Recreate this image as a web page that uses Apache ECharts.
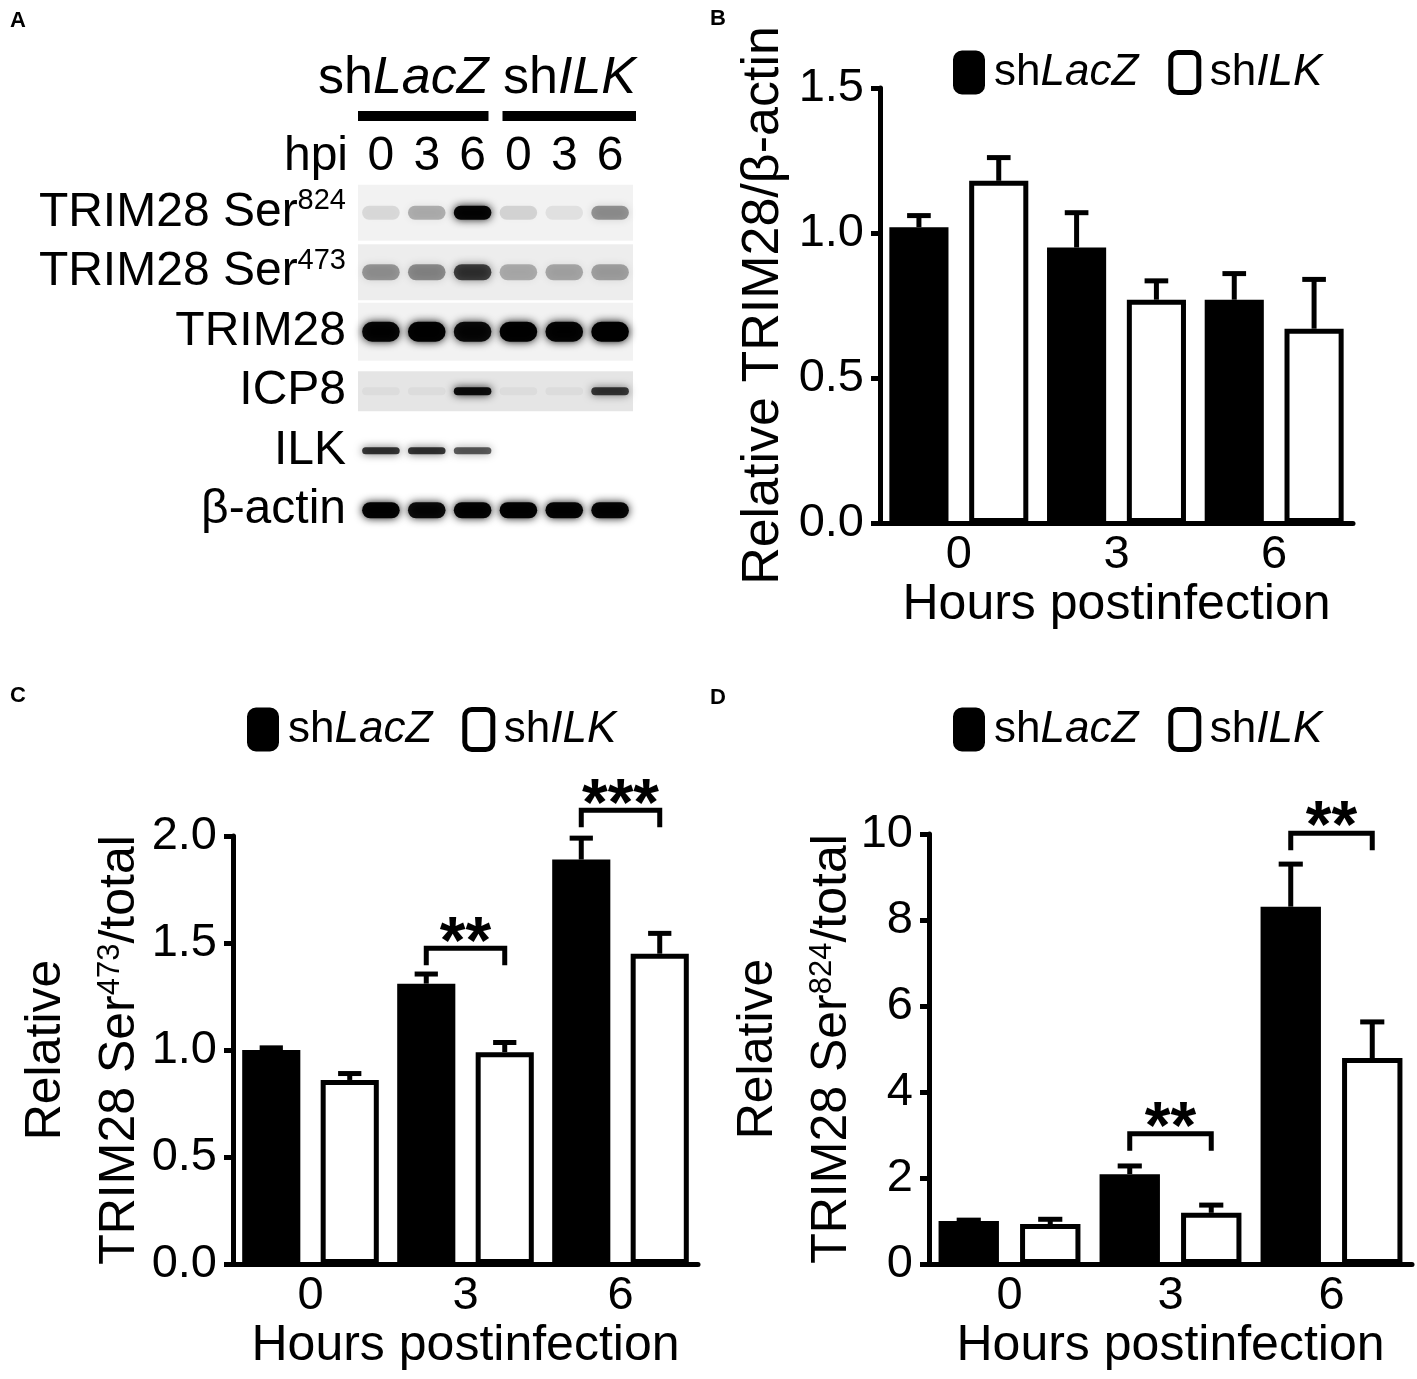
<!DOCTYPE html>
<html>
<head>
<meta charset="utf-8">
<script src="https://cdn.jsdelivr.net/npm/echarts@6/dist/echarts.min.js"></script>
<style>
    html, body { margin: 0; padding: 0; background: #fff; }
    #main { width: 1417px; height: 1379px; }
</style>
</head>
<body>
<div id="main"></div>
<script>
var FONT = "'Liberation Sans', Arial, sans-serif";

// ---- panel A: western blot ----
var lanes = ['0', '3', '6', '0', '3', '6'];
var rowNames = ['TRIM28 Ser824', 'TRIM28 Ser473', 'TRIM28', 'ICP8', 'ILK', 'β-actin'];
var groupNames = ['shLacZ', 'shILK'];
var groupFirst = [0, 3];
var groupLast = [2, 5];
// band darkness per row, one value per lane
var ser824Band = [0.10, 0.26, 0.95, 0.12, 0.07, 0.36];
var ser473Band = [0.34, 0.38, 0.68, 0.26, 0.28, 0.30];
var trim28Band = [0.95, 0.98, 0.92, 0.98, 0.96, 1.00];
var icp8Band = [0.04, 0.04, 0.92, 0.04, 0.04, 0.72];
var ilkBand = [0.75, 0.75, 0.60, 0.00, 0.00, 0.00];
var actinBand = [0.98, 0.92, 0.96, 0.98, 0.96, 0.96];
var stripShade = [0.05, 0.07, 0.05, 0.10, 0.0, 0.0];

// ---- panels B-D: bars ----
var hours = ['0', '3', '6'];
var bLacZ = [1.02, 0.95, 0.77];
var bLacZErr = [0.04, 0.12, 0.09];
var bILK = [1.18, 0.77, 0.67];
var bILKErr = [0.08, 0.065, 0.17];

var cLacZ = [1.00, 1.31, 1.89];
var cLacZErr = [0.01, 0.045, 0.10];
var cILK = [0.86, 0.99, 1.45];
var cILKErr = [0.03, 0.045, 0.095];
var cSigCat = [1, 2];
var cSigY = [1.475, 2.12];
var cSigLabel = ['**', '***'];

var dLacZ = [1.00, 2.09, 8.31];
var dLacZErr = [0.02, 0.19, 0.99];
var dILK = [0.93, 1.19, 4.79];
var dILKErr = [0.11, 0.18, 0.84];
var dSigCat = [1, 2];
var dSigY = [3.03, 10.02];
var dSigLabel = ['**', '**'];

var BAR_W = 0.375, BAR_GAP = 0.35;
var stripH = [56, 56, 58, 40, 0, 0];
var bandH = [14, 16, 20, 8, 7, 16];

var blotRows = [ser824Band, ser473Band, trim28Band, icp8Band, ilkBand, actinBand];
var bandData = [];
blotRows.forEach(function (row, r) {
    row.forEach(function (v, l) { bandData.push([l, r, v]); });
});
var stripData = stripShade.map(function (s, r) { return [0, r, s]; });
var groupData = groupNames.map(function (g, i) { return [groupFirst[i], groupLast[i], i]; });

var rowRich = {
    n: { fontSize: 48, fontFamily: FONT, color: '#000', lineHeight: 52 },
    s: { fontSize: 29, fontFamily: FONT, color: '#000', verticalAlign: 'top', lineHeight: 30 }
};
function rowLabel(v) {
    var m = v.match(/^(TRIM28 Ser)(\d+)$/);
    if (m) return '{n|' + m[1] + '}{s|' + m[2] + '}';
    return '{n|' + v + '}';
}
function shLabel(name) {
    return '{n|sh}{i|' + name.slice(2) + '}';
}

function renderStrip(params, api) {
    var r = api.value(1), s = api.value(2);
    if (s <= 0) return;
    var p = api.coord([0, r]);
    var h = stripH[r];
    return {
        type: 'rect',
        shape: { x: params.coordSys.x, y: p[1] - h / 2, width: params.coordSys.width, height: h },
        style: { fill: 'rgba(0,0,0,' + s + ')' }
    };
}
function renderBand(params, api) {
    var a = api.value(2);
    if (a <= 0) return;
    var r = api.value(1);
    var p = api.coord([api.value(0), r]);
    var w = api.size([1, 0])[0] * 0.82;
    var h = bandH[r];
    var c = 'rgba(0,0,0,' + a + ')';
    return {
        type: 'rect',
        shape: { x: p[0] - w / 2, y: p[1] - h / 2, width: w, height: h, r: h / 2 },
        style: { fill: c, shadowBlur: 8, shadowColor: c }
    };
}
function renderGroup(params, api) {
    var band = api.size([1, 0])[0];
    var x1 = api.coord([api.value(0), 0])[0] - band / 2 + (api.value(0) > 0 ? 7 : 0);
    var x2 = api.coord([api.value(1), 0])[0] + band / 2 - (api.value(1) < lanes.length - 1 ? 7 : -3);
    var y = params.coordSys.y - 72;
    return {
        type: 'group',
        children: [
            { type: 'rect', shape: { x: x1, y: y, width: x2 - x1, height: 10 }, style: { fill: '#000' } },
            {
                type: 'text',
                style: {
                    text: shLabel(groupNames[api.value(2)]), x: x2, y: y - 6,
                    align: 'right', verticalAlign: 'bottom',
                    rich: {
                        n: { fontSize: 52, fontFamily: FONT, color: '#000' },
                        i: { fontSize: 52, fontFamily: FONT, fontStyle: 'italic', color: '#000' }
                    }
                }
            }
        ]
    };
}

function errorBars(side) {
    return function (params, api) {
        var band = api.size([1, 0])[0];
        var bw = band * BAR_W, gap = bw * BAR_GAP;
        var off = side * (bw + gap) / 2;
        var lo = api.coord([api.value(0), api.value(1)]);
        var hi = api.coord([api.value(0), api.value(1) + api.value(2)]);
        var x = lo[0] + off, cap = bw * 0.2;
        return {
            type: 'group',
            children: [
                { type: 'line', shape: { x1: x, y1: lo[1], x2: x, y2: hi[1] }, style: { stroke: '#000', lineWidth: 5 } },
                { type: 'line', shape: { x1: x - cap, y1: hi[1], x2: x + cap, y2: hi[1] }, style: { stroke: '#000', lineWidth: 5 } }
            ]
        };
    };
}
function sigBrackets(labels) {
    return function (params, api) {
        var band = api.size([1, 0])[0];
        var bw = band * BAR_W, gap = bw * BAR_GAP;
        var off = (bw + gap) / 2;
        var p = api.coord([api.value(0), api.value(1)]);
        var x1 = p[0] - off, x2 = p[0] + off, y = p[1], leg = 17;
        return {
            type: 'group',
            children: [
                {
                    type: 'polyline',
                    shape: { points: [[x1, y + leg], [x1, y], [x2, y], [x2, y + leg]] },
                    style: { stroke: '#000', lineWidth: 5, fill: null }
                },
                {
                    type: 'text',
                    style: {
                        text: labels[params.dataIndex], x: (x1 + x2) / 2, y: y + 29,
                        align: 'center', verticalAlign: 'bottom',
                        fontSize: 66, fontWeight: 'bold', fontFamily: FONT, fill: '#000'
                    }
                }
            ]
        };
    };
}

function pair(vals, errs) {
    return vals.map(function (v, i) { return [i, v, errs[i]]; });
}
function sigData(cats, ys) {
    return cats.map(function (c, i) { return [c, ys[i]]; });
}

function legendFor(left, top) {
    return {
        left: left, top: top,
        itemWidth: 28, itemHeight: 40, itemGap: 30,
        icon: 'roundRect',
        selectedMode: false,
        data: [
            { name: 'shLacZ', itemStyle: { color: '#000', borderColor: '#000', borderWidth: 4 } },
            { name: 'shILK', itemStyle: { color: '#fff', borderColor: '#000', borderWidth: 5 } }
        ],
        formatter: shLabel,
        textStyle: {
            fontSize: 44, fontFamily: FONT, color: '#000', padding: [0, 0, 0, 6],
            rich: {
                n: { fontSize: 44, fontFamily: FONT, color: '#000' },
                i: { fontSize: 44, fontFamily: FONT, fontStyle: 'italic', color: '#000' }
            }
        }
    };
}

function barX(idx) {
    return {
        gridIndex: idx, type: 'category', data: hours,
        axisLine: { lineStyle: { color: '#000', width: 5 } },
        axisTick: { show: false },
        axisLabel: { fontSize: 47, fontFamily: FONT, color: '#000', margin: 9 },
        name: 'Hours postinfection', nameLocation: 'middle', nameGap: 56,
        nameTextStyle: { fontSize: 50, fontFamily: FONT, color: '#000' }
    };
}
function barY(idx, max, interval, digits, name, gap) {
    return {
        gridIndex: idx, type: 'value', min: 0, max: max, interval: interval,
        axisLine: { show: true, lineStyle: { color: '#000', width: 5 } },
        axisTick: { show: true, length: 9, lineStyle: { color: '#000', width: 5 } },
        splitLine: { show: false },
        axisLabel: {
            fontSize: 47, fontFamily: FONT, color: '#000', margin: 16,
            formatter: function (v) { return v.toFixed(digits); }
        },
        name: name, nameLocation: 'middle', nameGap: gap, nameRotate: 90,
        nameTextStyle: {
            fontSize: 52, fontFamily: FONT, color: '#000',
            rich: {
                r: { fontSize: 50, fontFamily: FONT, color: '#000', lineHeight: 74 },
                s: { fontSize: 31, fontFamily: FONT, color: '#000', verticalAlign: 'top', lineHeight: 31, padding: [12, 0, 0, 0] }
            }
        }
    };
}
function barSeries(idx, lacz, ilk) {
    return [
        {
            name: 'shLacZ', type: 'bar', xAxisIndex: idx, yAxisIndex: idx,
            barWidth: (BAR_W * 100) + '%', barGap: (BAR_GAP * 100) + '%',
            itemStyle: { color: '#000', borderColor: '#000', borderWidth: 4 },
            data: lacz, z: 3
        },
        {
            name: 'shILK', type: 'bar', xAxisIndex: idx, yAxisIndex: idx,
            barWidth: (BAR_W * 100) + '%', barGap: (BAR_GAP * 100) + '%',
            itemStyle: { color: '#fff', borderColor: '#000', borderWidth: 5 },
            data: ilk, z: 3
        }
    ];
}

var chart = echarts.init(document.getElementById('main'));

var series = [
    { type: 'custom', xAxisIndex: 0, yAxisIndex: 0, renderItem: renderStrip, data: stripData, z: 1, silent: true },
    { type: 'custom', xAxisIndex: 0, yAxisIndex: 0, renderItem: renderBand, data: bandData, z: 2, silent: true },
    { type: 'custom', xAxisIndex: 0, yAxisIndex: 0, renderItem: renderGroup, data: groupData, z: 2, silent: true }
];
series = series.concat(barSeries(1, bLacZ, bILK), barSeries(2, cLacZ, cILK), barSeries(3, dLacZ, dILK));
[[1, bLacZ, bLacZErr, bILK, bILKErr], [2, cLacZ, cLacZErr, cILK, cILKErr], [3, dLacZ, dLacZErr, dILK, dILKErr]].forEach(function (g) {
    series.push({ type: 'custom', xAxisIndex: g[0], yAxisIndex: g[0], renderItem: errorBars(-1), data: pair(g[1], g[2]), z: 2 });
    series.push({ type: 'custom', xAxisIndex: g[0], yAxisIndex: g[0], renderItem: errorBars(1), data: pair(g[3], g[4]), z: 2 });
});
series.push({ type: 'custom', xAxisIndex: 2, yAxisIndex: 2, renderItem: sigBrackets(cSigLabel), data: sigData(cSigCat, cSigY), z: 4 });
series.push({ type: 'custom', xAxisIndex: 3, yAxisIndex: 3, renderItem: sigBrackets(dSigLabel), data: sigData(dSigCat, dSigY), z: 4 });

var option = {
    backgroundColor: '#fff',
    animation: false,
    textStyle: { fontFamily: FONT },
    graphic: [
        { type: 'text', left: 10, top: 10, style: { text: 'A', fontSize: 22, fontWeight: 'bold', fontFamily: FONT, fill: '#000' } },
        { type: 'text', left: 710, top: 8, style: { text: 'B', fontSize: 22, fontWeight: 'bold', fontFamily: FONT, fill: '#000' } },
        { type: 'text', left: 10, top: 685, style: { text: 'C', fontSize: 22, fontWeight: 'bold', fontFamily: FONT, fill: '#000' } },
        { type: 'text', left: 710, top: 687, style: { text: 'D', fontSize: 22, fontWeight: 'bold', fontFamily: FONT, fill: '#000' } }
    ],
    legend: [legendFor(948, 45), legendFor(242, 702), legendFor(948, 702)],
    grid: [
        { left: 358, top: 183, width: 275, height: 357 },
        { left: 880, top: 88, width: 473, height: 435 },
        { left: 233, top: 836, width: 465, height: 428 },
        { left: 929, top: 834, width: 483, height: 430 }
    ],
    xAxis: [
        {
            gridIndex: 0, type: 'category', data: lanes, position: 'top', offset: 26,
            axisLine: { show: false }, axisTick: { show: false },
            axisLabel: { fontSize: 48, fontFamily: FONT, color: '#000', margin: 0, verticalAlign: 'middle' },
            name: 'hpi', nameLocation: 'start', nameGap: 10,
            nameTextStyle: { fontSize: 48, fontFamily: FONT, color: '#000', verticalAlign: 'middle' }
        },
        barX(1), barX(2), barX(3)
    ],
    yAxis: [
        {
            gridIndex: 0, type: 'category', data: rowNames, inverse: true,
            axisLine: { show: false }, axisTick: { show: false },
            axisLabel: { margin: 12, formatter: rowLabel, rich: rowRich }
        },
        barY(1, 1.5, 0.5, 1, 'Relative TRIM28/β-actin', 90),
        barY(2, 2.0, 0.5, 1, '{r|Relative}\n{r|TRIM28 Ser}{s|473}{r|/total}', 76),
        barY(3, 10, 2, 0, '{r|Relative}\n{r|TRIM28 Ser}{s|824}{r|/total}', 50)
    ],
    series: series
};

chart.setOption(option);
</script>
</body>
</html>
